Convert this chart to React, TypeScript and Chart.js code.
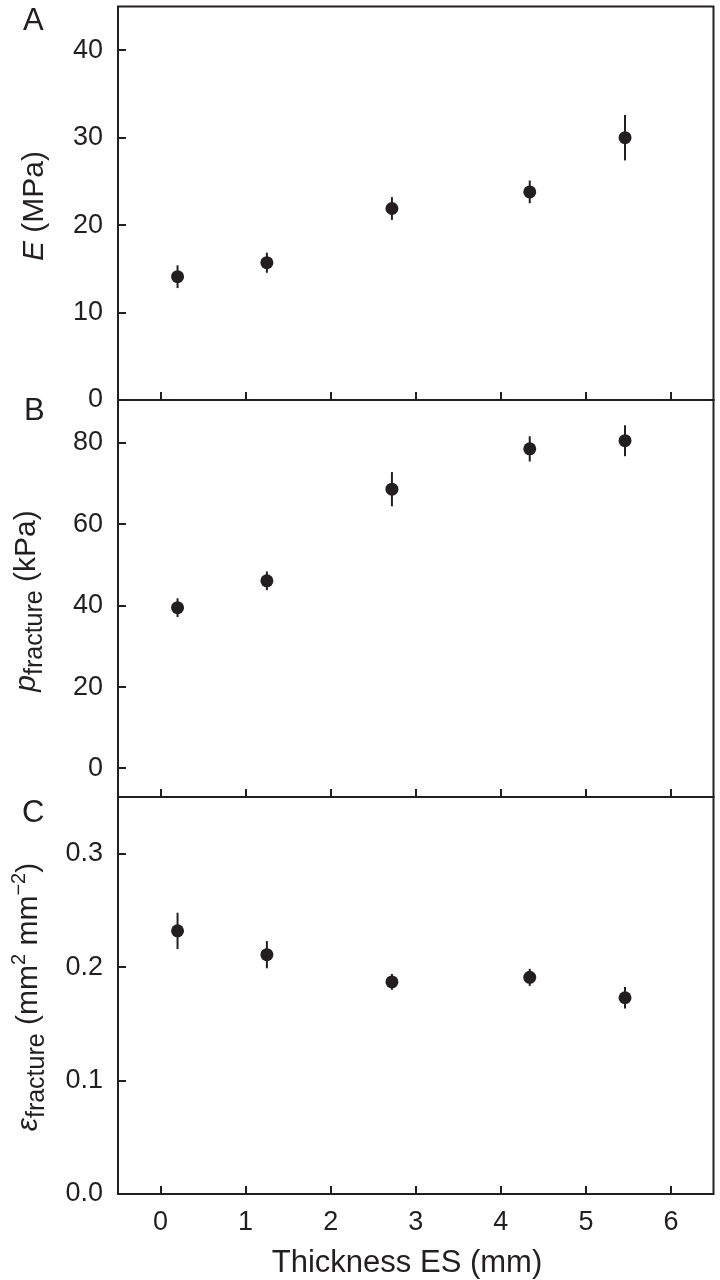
import React, { useEffect, useRef } from "react";
import { Chart, registerables } from "chart.js";

Chart.register(...registerables);

// ---------- data ----------
const thickness = [0.2, 1.25, 2.72, 4.34, 5.46];

const modulusE = [14.1, 15.7, 21.9, 23.8, 30.0];
const modulusErr = [1.3, 1.15, 1.3, 1.3, 2.6];

const pFracture = [39.5, 46.1, 68.6, 78.5, 80.5];
const pFractureErr = [2.3, 2.3, 4.2, 3.1, 3.8];

const epsFracture = [0.232, 0.211, 0.187, 0.191, 0.173];
const epsFractureErr = [0.016, 0.012, 0.007, 0.0075, 0.0095];

const xTicks = [0, 1, 2, 3, 4, 5, 6];
const eTicks = [0, 10, 20, 30, 40];
const pTicks = [0, 20, 40, 60, 80];
const epsTicks = [0, 0.1, 0.2, 0.3];

const xTitle = "Thickness ES (mm)";

// ---------- style ----------
const INK = "#231f20";
const FAMILY = '"Liberation Sans", Arial, Helvetica, sans-serif';
const TICK_SIZE = 27;

type Seg = { t: string; italic?: boolean; pos?: "sub" | "sup" };

const panels = [
  {
    letter: "A",
    canvasTop: 0,
    canvasHeight: 425,
    areaTop: 3,
    areaBottom: 400,
    ys: modulusE,
    errs: modulusErr,
    yMin: 0,
    yMax: 45,
    yTicks: eTicks,
    decimals: 0,
    title: [{ t: "E", italic: true }, { t: " (MPa)" }] as Seg[],
    titleX: 43,
    titleY: 206,
    letterX: 23,
    letterY: 30,
    showX: false,
  },
  {
    letter: "B",
    canvasTop: 380,
    canvasHeight: 440,
    areaTop: 400,
    areaBottom: 797,
    ys: pFracture,
    errs: pFractureErr,
    yMin: -7,
    yMax: 90.5,
    yTicks: pTicks,
    decimals: 0,
    title: [
      { t: "p", italic: true },
      { t: "fracture", pos: "sub" },
      { t: " (kPa)" },
    ] as Seg[],
    titleX: 35,
    titleY: 601,
    letterX: 24,
    letterY: 420,
    showX: false,
  },
  {
    letter: "C",
    canvasTop: 777,
    canvasHeight: 503,
    areaTop: 797,
    areaBottom: 1194,
    ys: epsFracture,
    errs: epsFractureErr,
    yMin: 0,
    yMax: 0.35,
    yTicks: epsTicks,
    decimals: 1,
    title: [
      { t: "\u03b5", italic: true },
      { t: "fracture", pos: "sub" },
      { t: " (mm" },
      { t: "2", pos: "sup" },
      { t: " mm" },
      { t: "\u22122", pos: "sup" },
      { t: ")" },
    ] as Seg[],
    titleX: 37,
    titleY: 997,
    letterX: 22,
    letterY: 822,
    showX: true,
  },
];

function segFont(s: Seg) {
  const size = s.pos === "sub" ? 25 : s.pos === "sup" ? 20 : 30;
  return `${s.italic ? "italic " : ""}${size}px ${FAMILY}`;
}

function drawRotatedRich(ctx: CanvasRenderingContext2D, segs: Seg[], bx: number, cy: number) {
  ctx.save();
  let total = 0;
  const widths = segs.map((s) => {
    ctx.font = segFont(s);
    const w = ctx.measureText(s.t).width;
    total += w;
    return w;
  });
  ctx.translate(bx, cy);
  ctx.rotate(-Math.PI / 2);
  ctx.fillStyle = INK;
  ctx.textBaseline = "alphabetic";
  ctx.textAlign = "left";
  let x = -total / 2;
  segs.forEach((s, i) => {
    ctx.font = segFont(s);
    const dy = s.pos === "sub" ? 7 : s.pos === "sup" ? -12 : 0;
    ctx.fillText(s.t, x, dy);
    x += widths[i];
  });
  ctx.restore();
}

function Panel({ p }: { p: (typeof panels)[number] }) {
  const ref = useRef<HTMLCanvasElement | null>(null);

  useEffect(() => {
    if (!ref.current) return;
    const off = p.canvasTop;
    const decor = {
      id: "decor" + p.letter,
      beforeDatasetsDraw(chart: any) {
        const { ctx } = chart;
        const xs = chart.scales.x;
        const ys = chart.scales.y;
        ctx.save();
        ctx.strokeStyle = INK;
        ctx.lineWidth = 2;
        thickness.forEach((xv, i) => {
          const px = xs.getPixelForValue(xv);
          ctx.beginPath();
          ctx.moveTo(px, ys.getPixelForValue(p.ys[i] - p.errs[i]));
          ctx.lineTo(px, ys.getPixelForValue(p.ys[i] + p.errs[i]));
          ctx.stroke();
        });
        ctx.restore();
      },
      afterDraw(chart: any) {
        const { ctx, chartArea } = chart;
        const { left, right, top, bottom } = chartArea;
        const xs = chart.scales.x;
        const ys = chart.scales.y;
        ctx.save();
        ctx.strokeStyle = INK;
        ctx.lineWidth = 2;
        // frame
        ctx.strokeRect(left, top, right - left, bottom - top);
        // inward y ticks
        p.yTicks.forEach((v) => {
          const py = Math.round(ys.getPixelForValue(v));
          ctx.beginPath();
          ctx.moveTo(left, py);
          ctx.lineTo(left + 8, py);
          ctx.stroke();
        });
        // inward x ticks along the bottom
        xTicks.forEach((v) => {
          const px = Math.round(xs.getPixelForValue(v));
          ctx.beginPath();
          ctx.moveTo(px, bottom);
          ctx.lineTo(px, bottom - 8);
          ctx.stroke();
        });
        // panel letter
        ctx.fillStyle = INK;
        ctx.font = `31px ${FAMILY}`;
        ctx.textAlign = "left";
        ctx.textBaseline = "alphabetic";
        ctx.fillText(p.letter, p.letterX, p.letterY - off);
        // y title
        drawRotatedRich(ctx, p.title, p.titleX, p.titleY - off);
        // x title
        if (p.showX) {
          ctx.font = `31px ${FAMILY}`;
          ctx.textAlign = "center";
          ctx.fillText(xTitle, 407, 1272 - off);
        }
        ctx.restore();
      },
    };

    const chart = new Chart(ref.current, {
      type: "scatter",
      data: {
        datasets: [
          {
            data: thickness.map((x, i) => ({ x, y: p.ys[i] })),
            pointRadius: 6.5,
            pointHoverRadius: 6.5,
            backgroundColor: INK,
            borderWidth: 0,
            showLine: false,
          },
        ],
      },
      options: {
        responsive: false,
        animation: false,
        devicePixelRatio: 1,
        events: [],
        layout: {
          padding: {
            left: 0,
            right: 4,
            top: p.areaTop - p.canvasTop,
            bottom: p.showX ? 0 : p.canvasTop + p.canvasHeight - p.areaBottom,
          },
        },
        plugins: {
          legend: { display: false },
          tooltip: { enabled: false },
        },
        scales: {
          x: {
            type: "linear",
            min: -0.5,
            max: 6.5,
            display: p.showX,
            grid: { display: false, drawTicks: false },
            border: { display: false },
            ticks: {
              padding: 12,
              color: INK,
              font: { family: FAMILY, size: TICK_SIZE },
              maxRotation: 0,
              autoSkip: false,
              callback: (v: any) => String(v),
            },
            afterBuildTicks: (s: any) => {
              s.ticks = xTicks.map((v) => ({ value: v }));
            },
            afterFit: (s: any) => {
              if (p.showX) s.height = p.canvasTop + p.canvasHeight - p.areaBottom;
              s.paddingLeft = 0;
              s.paddingRight = 0;
              s.paddingTop = 0;
              s.paddingBottom = 0;
            },
          },
          y: {
            type: "linear",
            min: p.yMin,
            max: p.yMax,
            grid: { display: false, drawTicks: false },
            border: { display: false },
            ticks: {
              padding: 15,
              color: INK,
              font: { family: FAMILY, size: TICK_SIZE },
              callback: (v: any) => Number(v).toFixed(p.decimals),
            },
            afterBuildTicks: (s: any) => {
              s.ticks = p.yTicks.map((v) => ({ value: v }));
            },
            afterFit: (s: any) => {
              s.width = 118;
              s.paddingLeft = 0;
              s.paddingRight = 0;
              s.paddingTop = 0;
              s.paddingBottom = 0;
            },
          },
        },
      } as any,
      plugins: [decor],
    });
    return () => chart.destroy();
  }, [p]);

  return (
    <canvas
      ref={ref}
      width={720}
      height={p.canvasHeight}
      style={{
        position: "absolute",
        left: 0,
        top: p.canvasTop,
        width: 720,
        height: p.canvasHeight,
      }}
    />
  );
}

export default function App() {
  return (
    <div
      style={{
        position: "absolute",
        left: 0,
        top: 0,
        width: 720,
        height: 1280,
        background: "#ffffff",
        overflow: "hidden",
      }}
    >
      {panels.map((p) => (
        <Panel key={p.letter} p={p} />
      ))}
    </div>
  );
}
